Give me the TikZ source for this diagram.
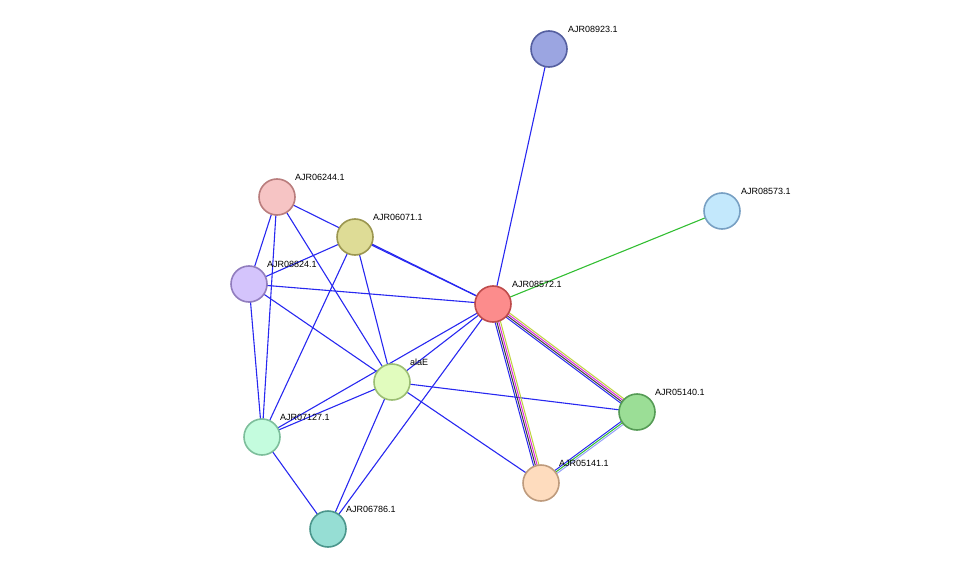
\documentclass[tikz,border=0pt]{standalone}
\usepackage{fontspec}
\setmainfont{Liberation Sans}
\begin{document}
\begin{tikzpicture}[x=1pt,y=-1pt,
 nd/.style={circle,minimum size=36pt,inner sep=0pt,line width=1.6pt},
 lb/.style={font=\fontsize{9}{10}\selectfont,anchor=south west,inner sep=0pt},
 e/.style={draw={rgb,255:red,40;green,40;blue,240},line width=1.1pt}]
\useasboundingbox (0,0) rectangle (976,575);
\coordinate (A) at (549,49);
\coordinate (B) at (722,211);
\coordinate (C) at (277,197);
\coordinate (D) at (355,237);
\coordinate (E) at (249,284);
\coordinate (F) at (493,304);
\coordinate (G) at (392,382);
\coordinate (H) at (637,412);
\coordinate (I) at (262,437);
\coordinate (J) at (541,483);
\coordinate (K) at (328,529);
% simple edges
\foreach \a/\b in {A/F,C/E,C/I,C/G,C/F,D/F,D/E,D/I,D/G,E/F,E/I,E/G,F/G,F/I,F/K,G/I,G/K,G/H,G/J,I/K}
  \draw[e] (\a) -- (\b);
\draw[line width=1.1pt,draw={rgb,255:red,50;green,190;blue,50}] (F) -- (B);
% bundle F-H
\foreach \o/\c in {-2.7/{rgb,255:red,40;green,40;blue,240},-0.9/{rgb,255:red,60;green,60;blue,60},0.9/{rgb,255:red,220;green,40;blue,220},2.7/{rgb,255:red,190;green,210;blue,60}}
  \draw[line width=1pt,draw=\c] ([shift={(0.6*\o,-0.8*\o)}]F) -- ([shift={(0.6*\o,-0.8*\o)}]H);
% bundle F-J
\foreach \o/\c in {-2.7/{rgb,255:red,40;green,40;blue,240},-0.9/{rgb,255:red,60;green,60;blue,60},0.9/{rgb,255:red,220;green,40;blue,220},2.7/{rgb,255:red,190;green,210;blue,60}}
  \draw[line width=1pt,draw=\c] ([shift={(0.966*\o,-0.259*\o)}]F) -- ([shift={(0.966*\o,-0.259*\o)}]J);
% bundle H-J
\foreach \o/\c in {-1.8/{rgb,255:red,40;green,40;blue,240},0/{rgb,255:red,50;green,190;blue,50},1.8/{rgb,255:red,150;green,160;blue,250}}
  \draw[line width=1pt,draw=\c] ([shift={(0.595*\o,0.804*\o)}]H) -- ([shift={(0.595*\o,0.804*\o)}]J);
% nodes
\node[nd,fill={rgb,255:red,155;green,165;blue,225},draw={rgb,255:red,85;green,95;blue,160}] (nA) at (A) {};
\node[nd,fill={rgb,255:red,195;green,232;blue,252},draw={rgb,255:red,120;green,160;blue,195}] (nB) at (B) {};
\node[nd,fill={rgb,255:red,246;green,196;blue,196},draw={rgb,255:red,185;green,125;blue,125}] (nC) at (C) {};
\node[nd,fill={rgb,255:red,222;green,220;blue,150},draw={rgb,255:red,155;green,150;blue,80}] (nD) at (D) {};
\node[nd,fill={rgb,255:red,212;green,196;blue,252},draw={rgb,255:red,145;green,125;blue,190}] (nE) at (E) {};
\node[nd,fill={rgb,255:red,252;green,140;blue,140},draw={rgb,255:red,190;green,75;blue,75}] (nF) at (F) {};
\node[nd,fill={rgb,255:red,225;green,252;blue,190},draw={rgb,255:red,155;green,190;blue,115}] (nG) at (G) {};
\node[nd,fill={rgb,255:red,155;green,222;blue,150},draw={rgb,255:red,85;green,155;blue,85}] (nH) at (H) {};
\node[nd,fill={rgb,255:red,196;green,252;blue,222},draw={rgb,255:red,125;green,190;blue,155}] (nI) at (I) {};
\node[nd,fill={rgb,255:red,254;green,220;blue,190},draw={rgb,255:red,190;green,155;blue,125}] (nJ) at (J) {};
\node[nd,fill={rgb,255:red,150;green,222;blue,212},draw={rgb,255:red,75;green,150;blue,140}] (nK) at (K) {};
% labels
\node[lb] at (568,33) {AJR08923.1};
\node[lb] at (741,195) {AJR08573.1};
\node[lb] at (295,181) {AJR06244.1};
\node[lb] at (373,221) {AJR06071.1};
\node[lb] at (267,268) {AJR08824.1};
\node[lb] at (512,288) {AJR08572.1};
\node[lb] at (410,366) {alaE};
\node[lb] at (655,396) {AJR05140.1};
\node[lb] at (280,421) {AJR07127.1};
\node[lb] at (559,467) {AJR05141.1};
\node[lb] at (346,513) {AJR06786.1};
\end{tikzpicture}
\end{document}
